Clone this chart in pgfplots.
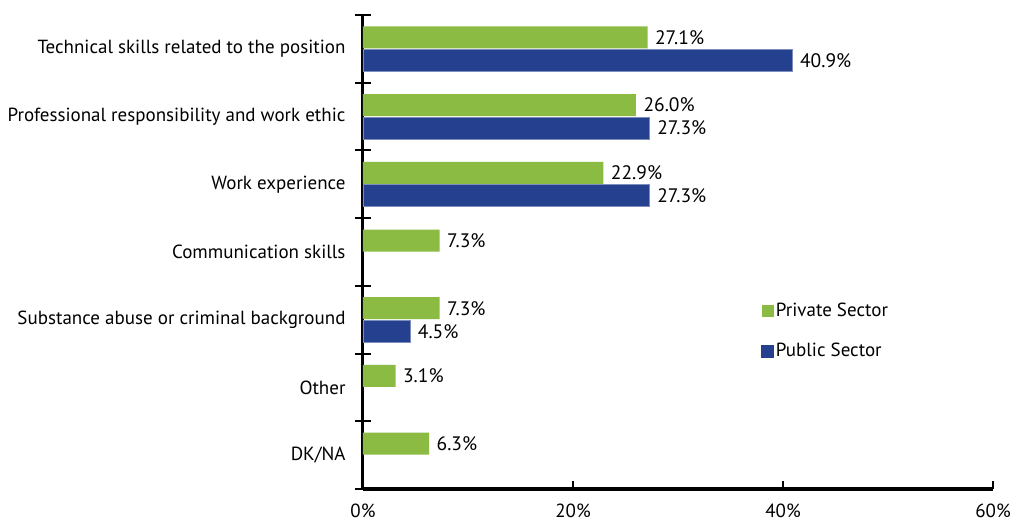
\documentclass[border=0pt]{standalone}
\usepackage{pgfplots}
\pgfplotsset{compat=1.18}
\usepackage{fontspec}
\setmainfont{PT Sans}
\definecolor{pgreen}{HTML}{8BBB43}
\definecolor{pblue}{HTML}{24408E}
\begin{document}
\fontsize{19bp}{22bp}\selectfont
\begin{tikzpicture}
\useasboundingbox (-363bp,-35bp) rectangle (651bp,489bp);
\begin{axis}[
  at={(0,0)}, anchor=south west,
  scale only axis, width=630bp, height=474bp,
  xbar, bar width=22bp,
  xmin=0, xmax=60, ymin=-0.5, ymax=6.5,
  axis lines=left, axis line style={-, line width=3bp, black},
  /pgf/number format/assume math mode=true,
  every tick/.style={line width=2bp, black},
  major tick length=8bp,
  minor tick length=16bp,
  xtick={0,20,40,60}, xticklabels={0\%,20\%,40\%,60\%},
  xtick align=inside,
  xticklabel style={yshift=-8bp},
  xtick pos=bottom,
  ytick={-10},
  yticklabels={},
  minor ytick={-0.5,0.5,1.5,2.5,3.5,4.5,5.5,6.5},
  yminorticks=true,
  ytick align=center,
  extra y ticks={0,1,2,3,4,5,6},
  extra y tick labels={DK/NA,Other,Substance abuse or criminal background,Communication skills,Work experience,Professional responsibility and work ethic,Technical skills related to the position},
  extra y tick style={major tick length=0pt, yticklabel style={xshift=-11bp}},
  tick label style={font=\fontsize{19bp}{22bp}\selectfont},
  nodes near coords={\pgfmathprintnumber[fixed,fixed zerofill,precision=1]{\pgfplotspointmeta}\%},
  point meta=x,
  every node near coord/.append style={font=\fontsize{19.5bp}{22bp}\selectfont, black, xshift=1bp},
  legend style={at={(0.632,0.397)}, anchor=north west, draw=none, fill=none,
    font=\fontsize{19bp}{22bp}\selectfont, row sep=20bp, inner sep=0pt},
  legend cell align=left,
  clip=false,
]
\addplot[fill=pgreen, draw=none, bar shift=11.5bp,
  legend image code/.code={\fill[pgreen] (0bp,-6bp) rectangle (12bp,6bp);}]
  coordinates {(27.1,6) (26.0,5) (22.9,4) (7.3,3) (7.3,2) (3.1,1) (6.3,0)};
\addlegendentry{Private Sector}
\addplot[fill=pblue, draw=pblue!60, line width=0.6bp, bar shift=-11.5bp,
  legend image code/.code={\fill[pblue] (0bp,-6bp) rectangle (12bp,6bp);}]
  coordinates {(40.9,6) (27.3,5) (27.3,4) (4.5,2)};
\addlegendentry{Public Sector}
\end{axis}
\end{tikzpicture}
\end{document}
